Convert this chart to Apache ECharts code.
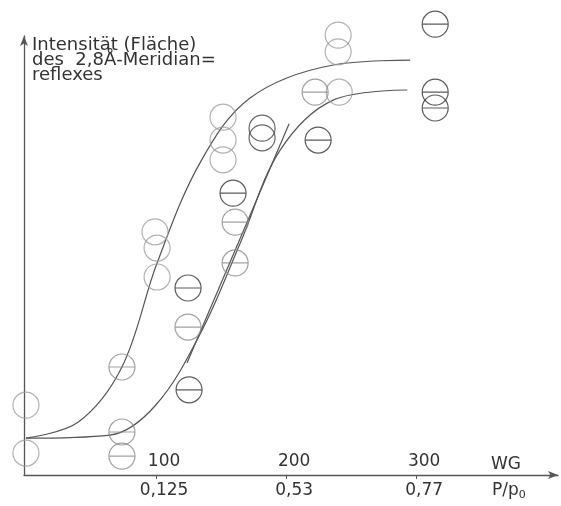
<!DOCTYPE html>
<html>
<head>
<meta charset="utf-8">
<script src="https://cdn.jsdelivr.net/npm/echarts@6/dist/echarts.min.js"></script>
<style>
  html, body { margin: 0; padding: 0; background: #fff; }
  #main { width: 561px; height: 506px; }
</style>
</head>
<body>
<div id="main"></div>
<script>
// Werte: x = WG, y = Intensität (willkürliche Einheiten 0..100)
var wgTicks = [100, 200, 300];
var ppTicks = ['0,125', '0,53', '0,77'];

// offene Kreise (hell)
var offenHell = [
  [0, 15.9], [0, 5.0],
  [99.2, 55.4], [100.8, 51.7], [100.8, 45.1],
  [151.5, 81.5], [151.5, 76.3], [151.5, 71.8],
  [240, 100.2], [240, 96.4], [240.8, 87.2]
];
// offene Kreise (dunkel)
var offenDunkel = [[181.5, 79.0], [181.5, 76.8]];
// Kreise mit Querstrich (hell)
var strichHell = [
  [73.8, 24.6], [73.8, 9.8], [73.8, 4.3],
  [124.6, 33.7], [160.8, 57.6], [160.8, 48.3],
  [222.3, 87.2]
];
// Kreise mit Querstrich (dunkel)
var strichDunkel = [
  [125.4, 19.4], [124.6, 42.6], [159.2, 64.2],
  [224.6, 76.3], [314.6, 102.7], [314.6, 87.2], [314.6, 83.6]
];

// Kurven
var kurveOben = [
  [0, 8.4], [40, 12.0], [73.8, 24.6], [100.8, 48.3],
  [133.8, 71.1], [172.3, 85.9], [236.2, 93.4], [295.4, 94.5]
];
var kurveUnten = [
  [0, 8.4], [64.6, 9.1], [100, 16.0], [135.4, 33.0],
  [165, 53.0], [195.4, 74.0], [236.2, 85.4], [293.1, 87.7]
];
var tangente = [[123.8, 25.5], [202.3, 80.0]];

var chart = echarts.init(document.getElementById('main'));

var strichSymbol = 'path://M50,0A50,50,0,1,1,50,100A50,50,0,1,1,50,0ZM0,50L100,50';
var achsFarbe = '#555';
var schrift = 'DejaVu Sans';

function kreisSerie(data, symbol, farbe) {
  return {
    type: 'scatter',
    data: data,
    symbol: symbol,
    symbolSize: 26,
    clip: false,
    silent: true,
    itemStyle: {
      color: 'rgba(0,0,0,0)',
      borderColor: farbe,
      borderWidth: 1.2
    },
    z: 3
  };
}

function linienSerie(data, smooth) {
  return {
    type: 'line',
    data: data,
    showSymbol: false,
    smooth: smooth,
    clip: false,
    silent: true,
    lineStyle: { color: '#555', width: 1.2 },
    z: 2
  };
}

var option = {
  backgroundColor: '#fff',
  animation: false,
  grid: { left: 24, right: 3, top: 36, bottom: 31 },
  xAxis: [{
    type: 'value',
    min: -1.5,
    max: 409,
    splitLine: { show: false },
    axisLine: {
      show: true,
      onZero: false,
      symbol: ['none', 'arrow'],
      symbolSize: [6, 10],
      lineStyle: { color: achsFarbe, width: 1.3 }
    },
    axisTick: {
      show: true,
      customValues: wgTicks,
      length: 4,
      lineStyle: { color: achsFarbe }
    },
    axisLabel: {
      inside: true,
      customValues: wgTicks,
      margin: 5,
      padding: [0, 0, 0, 16],
      color: '#333',
      fontFamily: schrift,
      fontSize: 17
    }
  }, {
    type: 'value',
    position: 'bottom',
    min: -1.5,
    max: 409,
    splitLine: { show: false },
    axisLine: { show: false },
    axisTick: { show: false },
    axisLabel: {
      customValues: wgTicks,
      margin: 7,
      padding: [0, 0, 0, 16],
      color: '#333',
      fontFamily: schrift,
      fontSize: 17,
      formatter: function (v) {
        var i = wgTicks.indexOf(v);
        return i >= 0 ? ppTicks[i] : '';
      }
    }
  }],
  yAxis: {
    type: 'value',
    min: 0,
    max: 100,
    splitLine: { show: false },
    axisTick: { show: false },
    axisLabel: { show: false },
    axisLine: {
      show: true,
      onZero: false,
      symbol: ['none', 'arrow'],
      symbolSize: [6, 10],
      lineStyle: { color: achsFarbe, width: 1.3 }
    }
  },
  graphic: [{
    type: 'text',
    left: 32,
    top: 36,
    style: {
      text: 'Intensität (Fläche)\ndes  2,8Å-Meridian=\nreflexes',
      fill: '#333',
      font: '18px "DejaVu Sans"',
      lineHeight: 15
    }
  }, {
    type: 'text',
    left: 491,
    top: 456,
    style: {
      text: 'WG',
      fill: '#333',
      font: '17px "DejaVu Sans"'
    }
  }, {
    type: 'text',
    left: 492,
    top: 482,
    style: {
      text: '{a|P/p}{b|0}',
      rich: {
        a: { fill: '#333', fontFamily: schrift, fontSize: 17 },
        b: { fill: '#333', fontFamily: schrift, fontSize: 11, padding: [9, 0, 0, 0] }
      }
    }
  }],
  series: [
    linienSerie(kurveOben, 0.35),
    linienSerie(kurveUnten, 0.35),
    linienSerie(tangente, false),
    kreisSerie(offenHell, 'circle', '#9d9d9d'),
    kreisSerie(offenDunkel, 'circle', '#444'),
    kreisSerie(strichHell, strichSymbol, '#8a8a8a'),
    kreisSerie(strichDunkel, strichSymbol, '#333')
  ]
};

chart.setOption(option);
</script>
</body>
</html>
